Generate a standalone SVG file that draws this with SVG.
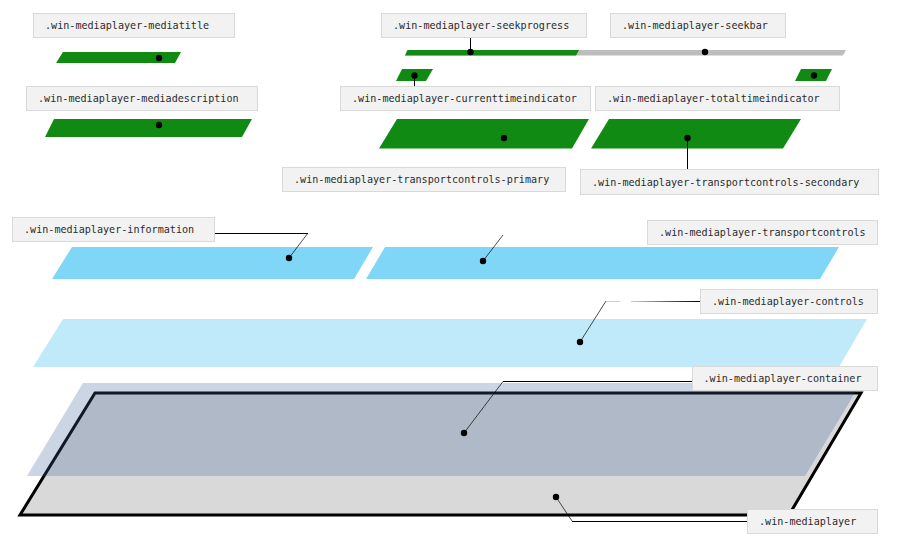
<svg xmlns="http://www.w3.org/2000/svg" width="898" height="548" viewBox="0 0 898 548">
<defs>
<style>
.lbl rect{fill:#f2f2f2;stroke:#d9d9d9;stroke-width:1}
.lbl text{font-family:"DejaVu Sans Mono","Liberation Mono",monospace;font-size:10.1px;fill:#2b2b2b}
.green{fill:#118a13}
.seek{fill:#bdbdbd}
.info{fill:#7fd6f7}
.ctrl{fill:#c0eaf9}
.dot{fill:#000}
.wire{fill:none;stroke:#000;stroke-width:1}
.thin{fill:none;stroke:#000;stroke-width:0.7}
</style>
<linearGradient id="fade" gradientUnits="userSpaceOnUse" x1="606" y1="0" x2="700" y2="0">
<stop offset="0" stop-color="#cfcfcf"/>
<stop offset="0.149" stop-color="#cfcfcf"/>
<stop offset="0.149" stop-color="#fff" stop-opacity="0"/>
<stop offset="0.266" stop-color="#fff" stop-opacity="0"/>
<stop offset="0.266" stop-color="#d0d0d0"/>
<stop offset="0.8" stop-color="#333"/>
<stop offset="1" stop-color="#000"/>
</linearGradient>
</defs>
<rect width="898" height="548" fill="#fff"/>

<g id="mediaplayer">
<polygon points="95,393 861,393 789,515 20,515" fill="#d9d9d9" stroke="#000" stroke-width="3" stroke-linejoin="miter"/>
</g>
<g id="container">
<polygon points="83,383 861,383 805,476 27,476" fill="rgb(57,94,152)" fill-opacity="0.263"/>
</g>
<g id="controls">
<polygon class="ctrl" points="63,319 867,319 839,367 33,367"/>
</g>
<g id="information">
<polygon class="info" points="72,247 373,247 354,279 52,279"/>
</g>
<g id="transportcontrols">
<polygon class="info" points="385,247 839,247 820,279 366,279"/>
</g>
<g id="transportcontrols-primary">
<polygon class="green" points="397,119 589,119 572,148.5 379,148.5"/>
</g>
<g id="transportcontrols-secondary">
<polygon class="green" points="609,119 801,119 783,148.5 591,148.5"/>
</g>
<g id="seekbar">
<polygon class="seek" points="407.5,50 846,50 843,55.5 405,55.5"/>
</g>
<g id="seekprogress">
<polygon class="green" points="407.5,50 579,50 576,55.5 405,55.5"/>
</g>
<g id="currenttimeindicator">
<polygon class="green" points="402,69 433,69 426,81 396,81"/>
</g>
<g id="totaltimeindicator">
<polygon class="green" points="801,69 832,69 826,81 795,81"/>
</g>
<g id="mediatitle">
<polygon class="green" points="63,52 181,52 175,63 56,63"/>
</g>
<g id="mediadescription">
<polygon class="green" points="54,119 252,119 242,137 45,137"/>
</g>

<g id="connectors">
<polyline class="wire" points="470.5,37 470.5,52"/>
<polyline class="wire" points="414.5,75.5 414.5,86"/>
<polyline class="wire" points="687.5,138 687.5,169.5"/>
<polyline class="thin" points="289,258 308,233"/>
<polyline class="wire" points="308,233.5 215,233.5"/>
<polyline class="thin" points="483,261 503,235"/>
<polyline class="thin" points="580,342 606,301"/>
<line x1="606" y1="301.5" x2="700" y2="301.5" stroke="url(#fade)" stroke-width="1"/>
<polyline class="thin" points="464,433 503,381.5"/>
<polyline class="wire" points="503,381.5 692,381.5"/>
<polyline class="thin" points="556,497 572,521"/>
<polyline class="wire" points="572,521.5 747,521.5"/>
</g>

<g id="dots">
<circle class="dot" cx="159" cy="58" r="3.2"/>
<circle class="dot" cx="159" cy="125" r="3.2"/>
<circle class="dot" cx="470.5" cy="52" r="3.2"/>
<circle class="dot" cx="705" cy="52" r="3.2"/>
<circle class="dot" cx="414.5" cy="75.5" r="3.2"/>
<circle class="dot" cx="814" cy="75.5" r="3.2"/>
<circle class="dot" cx="504" cy="138" r="3.2"/>
<circle class="dot" cx="687.5" cy="138" r="3.2"/>
<circle class="dot" cx="289" cy="258" r="3.2"/>
<circle class="dot" cx="483" cy="261" r="3.2"/>
<circle class="dot" cx="580" cy="342" r="3.2"/>
<circle class="dot" cx="464" cy="433" r="3.2"/>
<circle class="dot" cx="556" cy="497" r="3.2"/>
</g>

<g id="labels">
<g id="lbl-mediatitle" class="lbl"><rect x="33.5" y="13.5" width="201" height="24"/><text x="45" y="29">.win-mediaplayer-mediatitle</text></g>
<g id="lbl-mediadescription" class="lbl"><rect x="26.5" y="86.5" width="231" height="24"/><text x="38" y="102">.win-mediaplayer-mediadescription</text></g>
<g id="lbl-seekprogress" class="lbl"><rect x="381.5" y="13.5" width="205" height="24"/><text x="393" y="29">.win-mediaplayer-seekprogress</text></g>
<g id="lbl-seekbar" class="lbl"><rect x="610.5" y="13.5" width="175" height="24"/><text x="622" y="29">.win-mediaplayer-seekbar</text></g>
<g id="lbl-currenttimeindicator" class="lbl"><rect x="340.5" y="86.5" width="250" height="24"/><text x="352" y="102">.win-mediaplayer-currenttimeindicator</text></g>
<g id="lbl-totaltimeindicator" class="lbl"><rect x="595.5" y="86.5" width="244" height="24"/><text x="607" y="102">.win-mediaplayer-totaltimeindicator</text></g>
<g id="lbl-transportcontrols-primary" class="lbl"><rect x="282.5" y="167.5" width="283" height="24"/><text x="294" y="183">.win-mediaplayer-transportcontrols-primary</text></g>
<g id="lbl-transportcontrols-secondary" class="lbl"><rect x="580.5" y="169.5" width="298" height="25"/><text x="592" y="186">.win-mediaplayer-transportcontrols-secondary</text></g>
<g id="lbl-information" class="lbl"><rect x="12.5" y="217.5" width="202" height="24"/><text x="24" y="233">.win-mediaplayer-information</text></g>
<g id="lbl-transportcontrols" class="lbl"><rect x="647.5" y="220.5" width="230" height="24"/><text x="659" y="236">.win-mediaplayer-transportcontrols</text></g>
<g id="lbl-controls" class="lbl"><rect x="700.5" y="289.5" width="177" height="24"/><text x="712" y="305">.win-mediaplayer-controls</text></g>
<g id="lbl-container" class="lbl"><rect x="692.5" y="366.5" width="185" height="24"/><text x="703.5" y="382">.win-mediaplayer-container</text></g>
<g id="lbl-mediaplayer" class="lbl"><rect x="747.5" y="509.5" width="130" height="24"/><text x="759" y="525">.win-mediaplayer</text></g>
</g>
</svg>
